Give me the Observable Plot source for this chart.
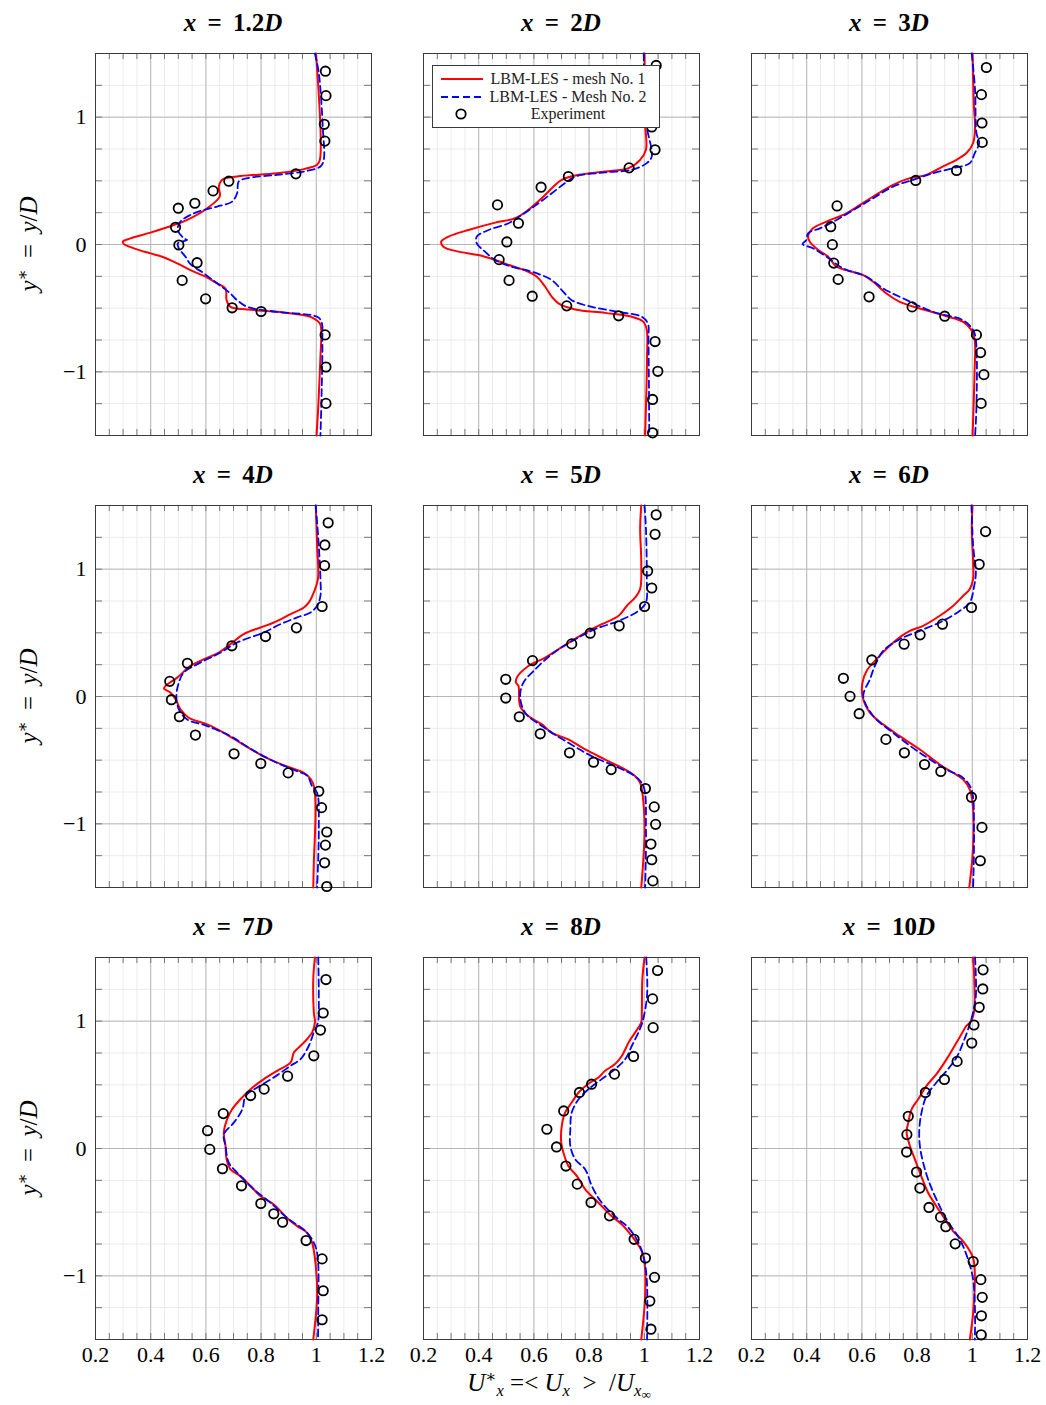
<!DOCTYPE html>
<html>
<head>
<meta charset="utf-8">
<script src="https://cdn.jsdelivr.net/npm/d3@7"></script>
<script src="https://cdn.jsdelivr.net/npm/@observablehq/plot@0.6"></script>
<style>
  body { margin: 0; background: #fff; }
  #root { position: relative; width: 1046px; height: 1405px; background: #fff; overflow: hidden;
          font-family: "Liberation Serif", "DejaVu Serif", serif; color: #000; }
  #root svg, #root svg text { font-family: "Liberation Serif", "DejaVu Serif", serif; }
  .panel { position: absolute; }
  .title { position: absolute; width: 276px; text-align: center; font-weight: bold; font-size: 25px; line-height: 26px; white-space: nowrap; }
  .eq { display: inline-block; margin: 0 0.45em; font-style: normal; }
  .ylab { position: absolute; width: 382px; height: 28px; line-height: 28px; text-align: center; font-size: 25px;
          transform: rotate(-90deg); transform-origin: 50% 50%; white-space: nowrap; }
  .xlab { position: absolute; width: 400px; text-align: center; font-size: 25px; line-height: 28px; white-space: nowrap; }
  .sub, .sup { font-size: 0.66em; position: relative; }
  .sup { top: -0.55em; }
  .sub { top: 0.3em; }
  .subsub { font-size: 0.8em; position: relative; top: 0.2em; }
  .sp { display: inline-block; width: 0.25em; }
</style>
</head>
<body>
<div id="root"></div>
<script>
// ---------- categories / labels ----------
const stations = ["1.2", "2", "3", "4", "5", "6", "7", "8", "10"];
const xMajorTicks = [0.2, 0.4, 0.6, 0.8, 1.0, 1.2];
const xTickLabels = ["0.2", "0.4", "0.6", "0.8", "1", "1.2"];
const yMajorTicks = [-1, 0, 1];
const yTickLabels = ["\u22121", "0", "1"];
const xMinorTicks = [0.2,0.25,0.3,0.35,0.4,0.45,0.5,0.55,0.6,0.65,0.7,0.75,0.8,0.85,0.9,0.95,1.0,1.05,1.1,1.15,1.2];
const yMinorTicks = [-1.5,-1.25,-1,-0.75,-0.5,-0.25,0,0.25,0.5,0.75,1,1.25,1.5];
const legendLabels = ["LBM-LES - mesh No. 1", "LBM-LES - Mesh No. 2", "Experiment"];

// ---------- series: [U*, y*] ----------
// x = 1.2D
const m1_12 = [[0.999,1.5],[1.013,0.665],[1.003,0.626],[0.955,0.592],[0.858,0.56],[0.713,0.534],[0.659,0.508],[0.647,0.455],[0.65,0.377],[0.605,0.285],[0.532,0.193],[0.484,0.153],[0.399,0.093],[0.327,0.048],[0.299,0.022],[0.303,0.003],[0.339,-0.03],[0.399,-0.07],[0.442,-0.096],[0.496,-0.148],[0.544,-0.201],[0.599,-0.253],[0.641,-0.306],[0.671,-0.345],[0.675,-0.437],[0.689,-0.49],[0.75,-0.511],[0.858,-0.529],[0.979,-0.568],[1.013,-0.621],[1.018,-0.673],[1.015,-0.883],[1.007,-1.277],[1.001,-1.5]];
const m2_12 = [[0.995,1.5],[1.009,1.348],[1.024,0.902],[1.027,0.665],[1.015,0.613],[0.955,0.573],[0.858,0.547],[0.75,0.521],[0.719,0.495],[0.713,0.403],[0.695,0.337],[0.641,0.298],[0.593,0.272],[0.544,0.232],[0.508,0.18],[0.498,0.114],[0.52,0.049],[0.532,0.035],[0.498,0.009],[0.502,-0.03],[0.526,-0.096],[0.544,-0.154],[0.593,-0.227],[0.641,-0.306],[0.689,-0.385],[0.713,-0.437],[0.75,-0.49],[0.858,-0.529],[1.003,-0.568],[1.019,-0.608],[1.022,-0.752],[1.018,-1.277],[1.015,-1.5]];
const exp_12 = [[1.033,1.361],[1.035,1.169],[1.029,0.944],[1.031,0.812],[0.926,0.555],[0.683,0.497],[0.626,0.421],[0.56,0.324],[0.5,0.285],[0.49,0.135],[0.502,-0.004],[0.568,-0.143],[0.514,-0.282],[0.599,-0.427],[0.695,-0.497],[0.8,-0.526],[1.032,-0.71],[1.035,-0.962],[1.035,-1.248]];
// x = 2D
const m1_2 = [[1.001,1.5],[1.003,0.954],[1.006,0.744],[0.985,0.665],[0.943,0.6],[0.858,0.573],[0.762,0.547],[0.701,0.508],[0.671,0.455],[0.635,0.377],[0.58,0.272],[0.532,0.206],[0.46,0.172],[0.363,0.114],[0.291,0.062],[0.264,0.022],[0.272,-0.017],[0.327,-0.056],[0.399,-0.083],[0.46,-0.122],[0.52,-0.169],[0.58,-0.214],[0.611,-0.253],[0.641,-0.332],[0.665,-0.411],[0.689,-0.463],[0.75,-0.511],[0.858,-0.537],[0.955,-0.568],[0.997,-0.608],[1.009,-0.673],[1.01,-0.883],[1.003,-1.5]];
const m2_2 = [[0.998,1.5],[1.007,0.954],[1.027,0.692],[1.009,0.639],[0.955,0.587],[0.858,0.566],[0.75,0.534],[0.713,0.482],[0.665,0.403],[0.617,0.324],[0.556,0.232],[0.508,0.167],[0.436,0.114],[0.393,0.062],[0.393,0.009],[0.423,-0.056],[0.46,-0.122],[0.52,-0.175],[0.593,-0.214],[0.665,-0.28],[0.701,-0.358],[0.737,-0.437],[0.81,-0.49],[0.907,-0.529],[0.991,-0.568],[1.013,-0.621],[1.015,-0.752],[1.018,-1.5]];
const exp_2 = [[1.043,1.406],[1.027,0.923],[1.039,0.744],[0.945,0.602],[0.725,0.534],[0.626,0.45],[0.468,0.311],[0.544,0.167],[0.502,0.02],[0.474,-0.119],[0.51,-0.282],[0.594,-0.406],[0.719,-0.482],[0.907,-0.56],[1.039,-0.762],[1.049,-0.996],[1.03,-1.217],[1.03,-1.479]];
// x = 3D
const m1_3 = [[1.001,1.5],[1.006,1.085],[1.01,0.928],[1.003,0.797],[0.979,0.718],[0.943,0.665],[0.894,0.613],[0.834,0.547],[0.774,0.521],[0.713,0.469],[0.641,0.377],[0.593,0.311],[0.544,0.245],[0.472,0.18],[0.423,0.127],[0.405,0.062],[0.411,0.022],[0.442,-0.043],[0.478,-0.096],[0.508,-0.175],[0.544,-0.201],[0.605,-0.24],[0.641,-0.293],[0.689,-0.385],[0.737,-0.45],[0.81,-0.503],[0.907,-0.563],[0.967,-0.608],[0.997,-0.673],[1.009,-0.752],[1.008,-1.014],[1.001,-1.5]];
const m2_3 = [[0.998,1.5],[1.01,1.217],[1.015,0.875],[1.025,0.797],[1.009,0.718],[0.991,0.639],[0.931,0.6],[0.858,0.56],[0.786,0.508],[0.713,0.455],[0.641,0.364],[0.58,0.285],[0.508,0.193],[0.448,0.127],[0.405,0.088],[0.399,0.035],[0.385,0.004],[0.423,-0.03],[0.472,-0.096],[0.532,-0.188],[0.617,-0.253],[0.677,-0.345],[0.75,-0.424],[0.858,-0.529],[0.967,-0.595],[1.003,-0.673],[1.013,-0.752],[1.015,-1.277],[1.01,-1.5]];
const exp_3 = [[1.051,1.39],[1.033,1.177],[1.035,0.954],[1.036,0.802],[0.943,0.581],[0.795,0.503],[0.51,0.303],[0.487,0.14],[0.493,-0.001],[0.498,-0.146],[0.514,-0.274],[0.626,-0.411],[0.782,-0.49],[0.9,-0.563],[1.015,-0.71],[1.03,-0.849],[1.042,-1.022],[1.032,-1.248]];
// x = 4D
const m1_4 = [[0.998,1.5],[1.003,1.185],[1.006,0.923],[0.991,0.818],[0.973,0.739],[0.955,0.699],[0.907,0.647],[0.846,0.581],[0.798,0.542],[0.737,0.49],[0.689,0.411],[0.647,0.345],[0.593,0.293],[0.544,0.24],[0.496,0.148],[0.454,0.083],[0.448,0.062],[0.472,0.03],[0.49,-0.022],[0.508,-0.101],[0.538,-0.167],[0.605,-0.219],[0.665,-0.285],[0.725,-0.364],[0.786,-0.442],[0.846,-0.508],[0.907,-0.56],[0.955,-0.6],[0.981,-0.652],[0.993,-0.718],[0.997,-0.915],[0.991,-1.308],[0.989,-1.5]];
const m2_4 = [[0.998,1.5],[1.009,1.185],[1.015,0.923],[1.015,0.791],[1.003,0.713],[0.979,0.66],[0.931,0.621],[0.87,0.568],[0.81,0.503],[0.713,0.424],[0.653,0.345],[0.58,0.266],[0.52,0.188],[0.502,0.109],[0.493,0.004],[0.502,-0.101],[0.532,-0.18],[0.605,-0.232],[0.689,-0.311],[0.737,-0.377],[0.786,-0.442],[0.858,-0.521],[0.931,-0.587],[0.967,-0.621],[0.985,-0.705],[1.003,-0.757],[1.009,-1.046],[1.003,-1.5]];
const exp_4 = [[1.043,1.364],[1.031,1.19],[1.03,1.028],[1.021,0.707],[0.928,0.539],[0.816,0.471],[0.694,0.398],[0.533,0.261],[0.469,0.119],[0.475,-0.025],[0.504,-0.159],[0.562,-0.303],[0.702,-0.45],[0.799,-0.526],[0.898,-0.6],[1.009,-0.744],[1.019,-0.873],[1.038,-1.064],[1.033,-1.167],[1.03,-1.306],[1.038,-1.492]];
// x = 5D
const m1_5 = [[0.989,1.5],[0.985,1.316],[0.989,1.054],[0.985,0.844],[0.967,0.778],[0.937,0.713],[0.907,0.634],[0.846,0.568],[0.81,0.529],[0.737,0.437],[0.689,0.371],[0.641,0.306],[0.58,0.24],[0.538,0.148],[0.535,0.109],[0.544,0.083],[0.55,-0.075],[0.58,-0.154],[0.629,-0.219],[0.665,-0.285],[0.725,-0.337],[0.786,-0.416],[0.858,-0.495],[0.931,-0.574],[0.967,-0.626],[0.985,-0.678],[0.993,-0.757],[1.001,-1.046],[0.989,-1.5]];
const m2_5 = [[1.001,1.5],[1.006,1.316],[1.009,0.923],[1.006,0.739],[0.979,0.673],[0.907,0.594],[0.822,0.529],[0.75,0.45],[0.665,0.332],[0.599,0.201],[0.562,0.109],[0.55,0.004],[0.568,-0.127],[0.629,-0.232],[0.725,-0.364],[0.81,-0.469],[0.907,-0.56],[0.967,-0.626],[0.997,-0.705],[1.006,-1.046],[1.003,-1.5]];
const exp_5 = [[1.043,1.427],[1.039,1.274],[1.012,0.986],[1.027,0.852],[1.001,0.707],[0.909,0.555],[0.804,0.497],[0.737,0.413],[0.595,0.282],[0.498,0.135],[0.498,-0.012],[0.547,-0.159],[0.623,-0.293],[0.729,-0.442],[0.816,-0.516],[0.88,-0.574],[1.004,-0.723],[1.036,-0.867],[1.041,-1.004],[1.024,-1.159],[1.027,-1.282],[1.031,-1.448]];
// x = 6D
const m1_6 = [[1.001,1.5],[0.998,1.316],[1.003,1.054],[1.003,0.923],[0.991,0.844],[0.967,0.791],[0.931,0.713],[0.882,0.634],[0.822,0.555],[0.774,0.516],[0.744,0.476],[0.701,0.398],[0.653,0.293],[0.617,0.201],[0.602,0.109],[0.602,0.004],[0.629,-0.127],[0.677,-0.219],[0.737,-0.311],[0.81,-0.416],[0.882,-0.534],[0.931,-0.6],[0.967,-0.652],[0.991,-0.731],[1.001,-0.836],[1.003,-1.177],[0.989,-1.5]];
const m2_6 = [[0.997,1.5],[1.003,1.185],[1.013,0.975],[1.007,0.87],[0.991,0.739],[0.955,0.673],[0.894,0.594],[0.81,0.516],[0.737,0.45],[0.677,0.358],[0.647,0.24],[0.629,0.135],[0.605,0.004],[0.641,-0.153],[0.713,-0.285],[0.81,-0.442],[0.907,-0.574],[0.967,-0.639],[0.997,-0.731],[1.006,-1.046],[1.003,-1.5]];
const exp_6 = [[1.048,1.295],[1.025,1.038],[0.997,0.699],[0.892,0.568],[0.811,0.484],[0.753,0.411],[0.636,0.287],[0.533,0.143],[0.557,0.001],[0.59,-0.135],[0.687,-0.337],[0.754,-0.442],[0.827,-0.534],[0.886,-0.589],[0.997,-0.791],[1.035,-1.028],[1.029,-1.29]];
// x = 7D
const m1_7 = [[0.995,1.5],[0.989,1.332],[0.991,1.07],[0.995,0.991],[0.985,0.912],[0.967,0.86],[0.943,0.807],[0.919,0.755],[0.907,0.676],[0.858,0.61],[0.81,0.545],[0.762,0.466],[0.725,0.387],[0.695,0.308],[0.677,0.23],[0.665,0.125],[0.671,0.02],[0.675,-0.085],[0.689,-0.164],[0.725,-0.217],[0.762,-0.295],[0.798,-0.374],[0.846,-0.44],[0.894,-0.545],[0.931,-0.61],[0.967,-0.663],[0.985,-0.741],[0.997,-0.899],[1.003,-1.161],[0.989,-1.5]];
const m2_7 = [[1.007,1.5],[1.009,1.201],[1.006,0.991],[0.991,0.912],[0.973,0.807],[0.943,0.702],[0.907,0.65],[0.846,0.558],[0.786,0.479],[0.744,0.413],[0.732,0.308],[0.701,0.203],[0.665,0.112],[0.671,0.02],[0.683,-0.112],[0.713,-0.19],[0.774,-0.321],[0.834,-0.426],[0.894,-0.545],[0.919,-0.584],[0.955,-0.637],[0.985,-0.715],[1.003,-0.82],[1.007,-1.293],[1.006,-1.5]];
const exp_7 = [[1.035,1.327],[1.025,1.064],[1.015,0.93],[0.991,0.728],[0.896,0.568],[0.811,0.466],[0.762,0.416],[0.663,0.274],[0.606,0.14],[0.614,-0.007],[0.66,-0.159],[0.729,-0.293],[0.799,-0.432],[0.846,-0.513],[0.878,-0.579],[0.963,-0.723],[1.021,-0.867],[1.025,-1.117],[1.021,-1.345]];
// x = 8D
const m1_8 = [[1.001,1.5],[0.993,1.332],[0.991,1.07],[0.989,0.991],[0.967,0.912],[0.943,0.833],[0.919,0.728],[0.894,0.663],[0.858,0.61],[0.834,0.558],[0.804,0.518],[0.762,0.44],[0.737,0.361],[0.713,0.282],[0.701,0.177],[0.699,0.046],[0.707,-0.033],[0.725,-0.138],[0.756,-0.217],[0.786,-0.321],[0.834,-0.426],[0.882,-0.532],[0.919,-0.597],[0.955,-0.689],[0.991,-0.807],[1.001,-0.899],[1.003,-1.161],[0.989,-1.5]];
const m2_8 = [[1.007,1.5],[1.01,1.201],[0.993,0.991],[0.979,0.912],[0.955,0.807],[0.931,0.702],[0.894,0.623],[0.846,0.545],[0.798,0.466],[0.762,0.387],[0.737,0.282],[0.732,0.151],[0.732,0.02],[0.75,-0.085],[0.786,-0.164],[0.81,-0.295],[0.846,-0.426],[0.907,-0.558],[0.937,-0.61],[0.973,-0.715],[0.997,-0.846],[1.009,-1.03],[1.01,-1.5]];
const exp_8 = [[1.048,1.398],[1.03,1.175],[1.032,0.949],[0.961,0.723],[0.892,0.584],[0.809,0.505],[0.765,0.44],[0.708,0.295],[0.647,0.151],[0.682,0.012],[0.716,-0.138],[0.757,-0.28],[0.807,-0.424],[0.874,-0.529],[0.963,-0.713],[1.004,-0.86],[1.037,-1.012],[1.02,-1.198],[1.024,-1.419]];
// x = 10D
const m1_10 = [[1.003,1.5],[1.007,1.332],[1.006,1.07],[0.993,0.991],[0.979,0.965],[0.961,0.899],[0.943,0.833],[0.907,0.702],[0.87,0.584],[0.834,0.492],[0.804,0.387],[0.78,0.308],[0.768,0.203],[0.762,0.125],[0.774,0.02],[0.792,-0.085],[0.81,-0.19],[0.84,-0.348],[0.87,-0.453],[0.894,-0.532],[0.931,-0.65],[0.967,-0.729],[1.003,-0.86],[1.009,-1.03],[1.003,-1.293],[0.991,-1.5]];
const m2_10 = [[1.01,1.5],[1.013,1.201],[1.003,1.07],[0.985,0.938],[0.967,0.833],[0.943,0.715],[0.907,0.61],[0.87,0.518],[0.834,0.413],[0.816,0.282],[0.808,0.151],[0.81,0.02],[0.822,-0.112],[0.84,-0.243],[0.87,-0.4],[0.907,-0.558],[0.955,-0.715],[0.985,-0.873],[1.003,-1.03],[1.01,-1.293],[1.009,-1.5]];
const exp_10 = [[1.039,1.403],[1.038,1.253],[1.025,1.109],[1.006,0.97],[0.998,0.828],[0.945,0.684],[0.899,0.542],[0.83,0.44],[0.768,0.253],[0.763,0.109],[0.762,-0.028],[0.798,-0.185],[0.81,-0.311],[0.843,-0.463],[0.885,-0.539],[0.904,-0.614],[0.938,-0.749],[1.003,-0.888],[1.031,-1.03],[1.036,-1.169],[1.033,-1.314],[1.032,-1.463]];

const mesh1 = [m1_12, m1_2, m1_3, m1_4, m1_5, m1_6, m1_7, m1_8, m1_10];
const mesh2 = [m2_12, m2_2, m2_3, m2_4, m2_5, m2_6, m2_7, m2_8, m2_10];
const expt  = [exp_12, exp_2, exp_3, exp_4, exp_5, exp_6, exp_7, exp_8, exp_10];

// ---------- layout ----------
const colLeft = [95, 423, 751];
const rowTop = [53, 505, 957];
const W = 276, H = 382;
const ML = 80, MR = 14, MT = 14, MB = 44;
const FONT = '"Liberation Serif", "DejaVu Serif", serif';

const root = document.getElementById("root");
const U = d => d[0], Y = d => d[1];
const lookup = (ticks, labels) => v => labels[ticks.findIndex(t => Math.abs(t - v) < 1e-9)];

stations.forEach((st, i) => {
  const r = Math.floor(i / 3), c = i % 3;
  const marks = [
    Plot.ruleX(xMinorTicks, {stroke: "#ebebeb", strokeWidth: 1}),
    Plot.ruleY(yMinorTicks, {stroke: "#ebebeb", strokeWidth: 1}),
    Plot.ruleX(xMajorTicks, {stroke: "#b8b8b8", strokeWidth: 1}),
    Plot.ruleY(yMajorTicks, {stroke: "#b8b8b8", strokeWidth: 1}),
    Plot.ruleX(xMinorTicks, {stroke: "#777", strokeWidth: 1, insetTop: H - 6}),
    Plot.ruleX(xMinorTicks, {stroke: "#777", strokeWidth: 1, insetBottom: H - 6}),
    Plot.ruleY(yMinorTicks, {stroke: "#777", strokeWidth: 1, insetRight: W - 7}),
    Plot.ruleY(yMinorTicks, {stroke: "#777", strokeWidth: 1, insetLeft: W - 7}),
    Plot.frame({stroke: "#3a3a3a", strokeWidth: 1}),
    Plot.line(mesh1[i], {x: U, y: Y, stroke: "#ff0000", strokeWidth: 2, curve: "catmull-rom"}),
    Plot.line(mesh2[i], {x: U, y: Y, stroke: "#0000ff", strokeWidth: 1.8, strokeDasharray: "7,4", curve: "catmull-rom"}),
    Plot.dot(expt[i], {x: U, y: Y, r: 4.7, stroke: "#000", strokeWidth: 1.8, fill: "none"})
  ];
  if (c === 0) marks.push(Plot.axisY({ticks: yMajorTicks, tickSize: 0, tickPadding: 9, tickFormat: lookup(yMajorTicks, yTickLabels), label: null, fontFamily: FONT, fontSize: 22}));
  if (r === 2) marks.push(Plot.axisX({ticks: xMajorTicks, tickSize: 0, tickPadding: 7, tickFormat: lookup(xMajorTicks, xTickLabels), label: null, fontFamily: FONT, fontSize: 22}));
  const svg = Plot.plot({
    width: W + ML + MR, height: H + MT + MB,
    marginLeft: ML, marginRight: MR, marginTop: MT, marginBottom: MB,
    style: {background: "transparent", fontFamily: FONT, fontSize: "22px", color: "#000", overflow: "visible"},
    x: {domain: [0.2, 1.2], axis: null, label: null},
    y: {domain: [-1.5, 1.5], axis: null, label: null},
    marks
  });
  svg.classList.add("panel");
  svg.style.left = (colLeft[c] - ML) + "px";
  svg.style.top = (rowTop[r] - MT) + "px";
  root.appendChild(svg);

  const t = document.createElement("div");
  t.className = "title";
  t.style.left = colLeft[c] + "px";
  t.style.top = (rowTop[r] - 43) + "px";
  t.innerHTML = `<i>x</i><span class="eq">=</span>${st}<i>D</i>`;
  root.appendChild(t);

  if (c === 0) {
    const yl = document.createElement("div");
    yl.className = "ylab";
    yl.style.left = (29 - 191) + "px";
    yl.style.top = (rowTop[r] + H / 2 - 14) + "px";
    yl.innerHTML = `<i>y</i><span class="sup">\u2217</span><span class="eq">=</span><i>y</i>/<i>D</i>`;
    root.appendChild(yl);
  }
});

// x-axis label
const xl = document.createElement("div");
xl.className = "xlab";
xl.style.left = (559 - 200) + "px";
xl.style.top = "1369px";
xl.innerHTML = `<i>U</i><span class="sup">\u2217</span><span class="sub"><i>x</i></span><span class="sp"></span>=&lt;<span class="sp"></span><i>U</i><span class="sub"><i>x</i></span><span class="sp"></span> &gt; <span class="sp"></span>/<i>U</i><span class="sub"><i>x</i><span class="subsub">\u221e</span></span>`;
root.appendChild(xl);

// legend (inside the x = 2D panel)
const ns = "http://www.w3.org/2000/svg";
const lg = document.createElementNS(ns, "svg");
lg.setAttribute("width", 228); lg.setAttribute("height", 63);
lg.style.position = "absolute"; lg.style.left = "432px"; lg.style.top = "65px";
lg.innerHTML = `
  <rect x="0.5" y="0.5" width="227" height="62" fill="#fff" stroke="#3a3a3a" stroke-width="1"/>
  <line x1="9" x2="51" y1="14" y2="14" stroke="#ff0000" stroke-width="2"/>
  <line x1="9" x2="51" y1="32" y2="32" stroke="#0000ff" stroke-width="1.8" stroke-dasharray="7,4"/>
  <circle cx="29" cy="49" r="4.7" fill="none" stroke="#000" stroke-width="1.8"/>
  <g font-family='${FONT}' font-size="16" fill="#222" text-anchor="middle">
    <text x="136" y="19">${legendLabels[0]}</text>
    <text x="136" y="37">${legendLabels[1]}</text>
    <text x="136" y="54">${legendLabels[2]}</text>
  </g>`;
root.appendChild(lg);
</script>
</body>
</html>
